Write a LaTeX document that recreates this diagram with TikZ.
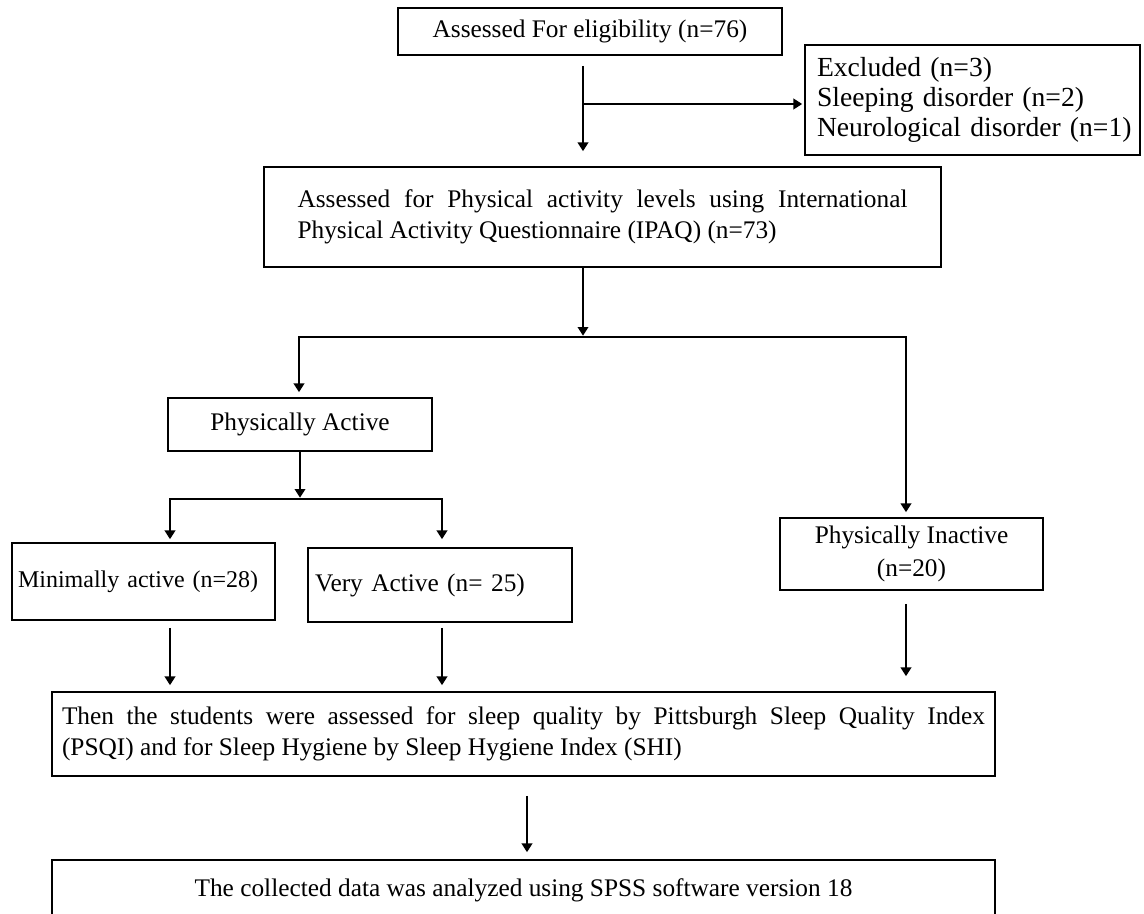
\documentclass[tikz,border=0pt]{standalone}
\usepackage{fontspec}
\setmainfont{Liberation Serif}
\usetikzlibrary{arrows.meta}
\begin{document}
\begin{tikzpicture}[x=0.75pt,y=-0.75pt,
  box/.style={draw, line width=1.3pt, rectangle, inner sep=0pt},
  arr/.style={-{Triangle[length=6.5pt,width=8pt]}, line width=1.1pt},
  main/.style={font=\fontsize{19pt}{20pt}\selectfont}]
\clip (0,0) rectangle (1144,913);
\fill[white] (0,0) rectangle (1144,913);

\node[box, main, minimum width=288pt, minimum height=35.25pt] (b1) at (590,31.5) {Assessed For eligibility (n=76)};

\node[box, font=\fontsize{20.7pt}{22.5pt}\selectfont, minimum width=251.25pt, minimum height=82.5pt, inner xsep=9pt, text width=233.25pt, align=left] (excl) at (972.5,100) {\mbox{Excluded (n=3)}\\\mbox{Sleeping disorder (n=2)}\\\mbox{Neurological disorder (n=1)}};

\node[box, main, minimum width=507.75pt, minimum height=75pt, text width=457.5pt, align=justify] (ipaq) at (602.5,217) {\vspace*{3pt}Assessed for Physical activity levels using International\linebreak Physical Activity Questionnaire (IPAQ) (n=73)};

\node[box, main, minimum width=198pt, minimum height=39.75pt] (pa) at (300,424.5) {Physically Active};

\node[box, font=\fontsize{18pt}{20pt}\selectfont, minimum width=197.25pt, minimum height=57.75pt, inner xsep=4.5pt, text width=188.25pt, align=left] (min) at (143.5,581.5) {\mbox{Minimally active (n=28)}};

\node[box, main, minimum width=198pt, minimum height=55.5pt, inner xsep=5.25pt, text width=187.5pt, align=left] (very) at (440,585) {\mbox{Very Active (n= 25)}};

\node[box, font=\fontsize{19pt}{25pt}\selectfont, minimum width=197.25pt, minimum height=54pt, align=center] (inact) at (911.5,554) {Physically Inactive\\(n=20)};

\node[box, font=\fontsize{19pt}{23pt}\selectfont, minimum width=707.25pt, minimum height=63pt, text width=692.25pt, align=justify] (then) at (523.5,734) {Then the students were assessed for sleep quality by Pittsburgh Sleep Quality Index\linebreak (PSQI) and for Sleep Hygiene by Sleep Hygiene Index (SHI)};

\node[box, main, minimum width=707.25pt, minimum height=45pt] (data) at (523.5,890) {The collected data was analyzed using SPSS software version 18};

% connectors
\coordinate (j1) at (583,104);
\draw[arr, shorten <=7.5pt, shorten >=11.25pt] (b1.south -| j1) -- (ipaq.north -| j1);
\draw[arr, shorten >=1.5pt] (j1) -- (excl.west |- j1);

\coordinate (j2) at (583,337);
\coordinate (l2) at (299,337);
\coordinate (r2) at (906,337);
\draw[arr, shorten >=1pt] (ipaq.south -| j2) -- (j2);
\draw[arr, shorten >=3.75pt] (r2) -- (l2) -- (l2 |- pa.north);
\draw[arr, shorten >=3.75pt] (l2) -- (r2) -- (r2 |- inact.north);

\coordinate (j3) at (300,499);
\coordinate (l3) at (170,499);
\coordinate (r3) at (442,499);
\draw[arr, shorten >=1pt] (pa.south -| j3) -- (j3);
\draw[arr, shorten >=2.25pt] (r3) -- (l3) -- (l3 |- min.north);
\draw[arr, shorten >=6pt] (l3) -- (r3) -- (r3 |- very.north);

\draw[arr, shorten <=5.25pt, shorten >=4.5pt] (min.south -| l3) -- (then.north -| l3);
\draw[arr, shorten <=3.75pt, shorten >=4.5pt] (very.south -| r3) -- (then.north -| r3);
\draw[arr, shorten <=9.75pt, shorten >=11.25pt] (inact.south -| r2) -- (then.north -| r2);

\coordinate (c5) at (527,800);
\draw[arr, shorten <=14.25pt, shorten >=5.25pt] (then.south -| c5) -- (data.north -| c5);
\end{tikzpicture}
\end{document}
